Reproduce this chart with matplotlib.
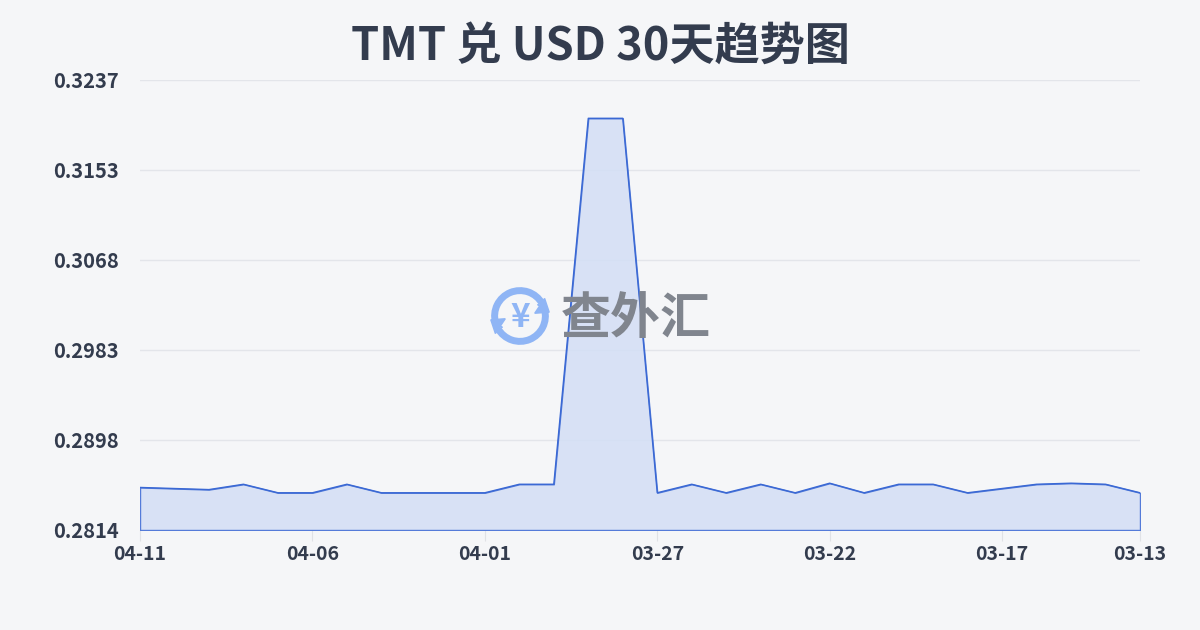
import matplotlib.pyplot as plt
from matplotlib.patches import Arc, FancyArrow
import numpy as np

plt.rcParams['font.family'] = ['Noto Sans CJK SC', 'DejaVu Sans']

title = 'TMT 兑 USD 30天趋势图'

dates = ['04-11', '04-10', '04-09', '04-08', '04-07', '04-06', '04-05', '04-04',
         '04-03', '04-02', '04-01', '03-31', '03-30', '03-29', '03-28', '03-27',
         '03-26', '03-25', '03-24', '03-23', '03-22', '03-21', '03-20', '03-19',
         '03-18', '03-17', '03-16', '03-15', '03-14', '03-13']
rates = [0.2854, 0.2853, 0.2852, 0.2857, 0.2849, 0.2849, 0.2857, 0.2849,
         0.2849, 0.2849, 0.2849, 0.2857, 0.2857, 0.3201, 0.3201, 0.2849,
         0.2857, 0.2849, 0.2857, 0.2849, 0.2858, 0.2849, 0.2857, 0.2857,
         0.2849, 0.2853, 0.2857, 0.2858, 0.2857, 0.2849]
y_ticks = [0.2814, 0.2898, 0.2983, 0.3068, 0.3153, 0.3237]
x_tick_labels = ['04-11', '04-06', '04-01', '03-27', '03-22', '03-17', '03-13']

text_color = '#333c4e'
line_color = '#3a68d4'

fig = plt.figure(figsize=(12, 6.3), dpi=100)
fig.patch.set_facecolor('#f5f6f8')
ax = fig.add_axes([140 / 1200, 100 / 630, 1000 / 1200, 450 / 630])
ax.set_facecolor('none')

x = np.arange(len(rates))
lo, hi = y_ticks[0], y_ticks[-1]
ax.fill_between(x, rates, lo, facecolor='#d3def5', alpha=0.85,
                edgecolor=line_color, linewidth=1, zorder=3)
ax.plot(x, rates, color=line_color, linewidth=1, zorder=4)

ax.set_xlim(0, len(rates) - 1)
ax.set_ylim(lo, hi)
ax.set_yticks(np.linspace(lo, hi, len(y_ticks)))
ax.set_yticklabels(['%.4f' % v for v in y_ticks])
xt = [dates.index(d) for d in x_tick_labels]
ax.set_xticks(xt)
ax.set_xticklabels(x_tick_labels)

ax.grid(axis='y', color='#e3e5ea', linewidth=1, zorder=0)
for s in ax.spines.values():
    s.set_visible(False)
ax.tick_params(axis='y', length=0, pad=15, labelsize=14.5, labelcolor=text_color)
ax.tick_params(axis='x', length=8, color='#e0e2e6', pad=3, labelsize=14,
               labelcolor=text_color)
for lab in ax.get_xticklabels() + ax.get_yticklabels():
    lab.set_fontweight('bold')

fig.text(0.5, 1 - 47 / 630, title, ha='center', va='center', fontsize=32.5,
         fontweight='bold', color=text_color)

# watermark
fig.text(636 / 1200, 1 - 319 / 630, '查外汇', ha='center', va='center',
         fontsize=36, fontweight='bold', color='#80858e', zorder=1)
ia = fig.add_axes([487 / 1200, 1 - 349 / 630, 66 / 1200, 66 / 630])
ia.set_xlim(-1.3, 1.3)
ia.set_ylim(-1.3, 1.3)
ia.set_aspect('equal')
ia.axis('off')
icon = '#8fb5f5'
ia.add_patch(Arc((0, 0), 2, 2, theta1=30, theta2=195, color=icon, lw=5))
ia.add_patch(Arc((0, 0), 2, 2, theta1=210, theta2=375, color=icon, lw=5))
ia.add_patch(FancyArrow(0.7, 0.45, 0.45, -0.3, width=0.01, head_width=0.7,
                        head_length=0.45, color=icon, length_includes_head=True))
ia.add_patch(FancyArrow(-0.7, -0.45, -0.45, 0.3, width=0.01, head_width=0.7,
                        head_length=0.45, color=icon, length_includes_head=True))
ia.text(0, -0.05, '¥', ha='center', va='center', fontsize=24, fontweight='bold',
        color=icon)

fig.savefig('out.png', dpi=100, facecolor=fig.get_facecolor())
